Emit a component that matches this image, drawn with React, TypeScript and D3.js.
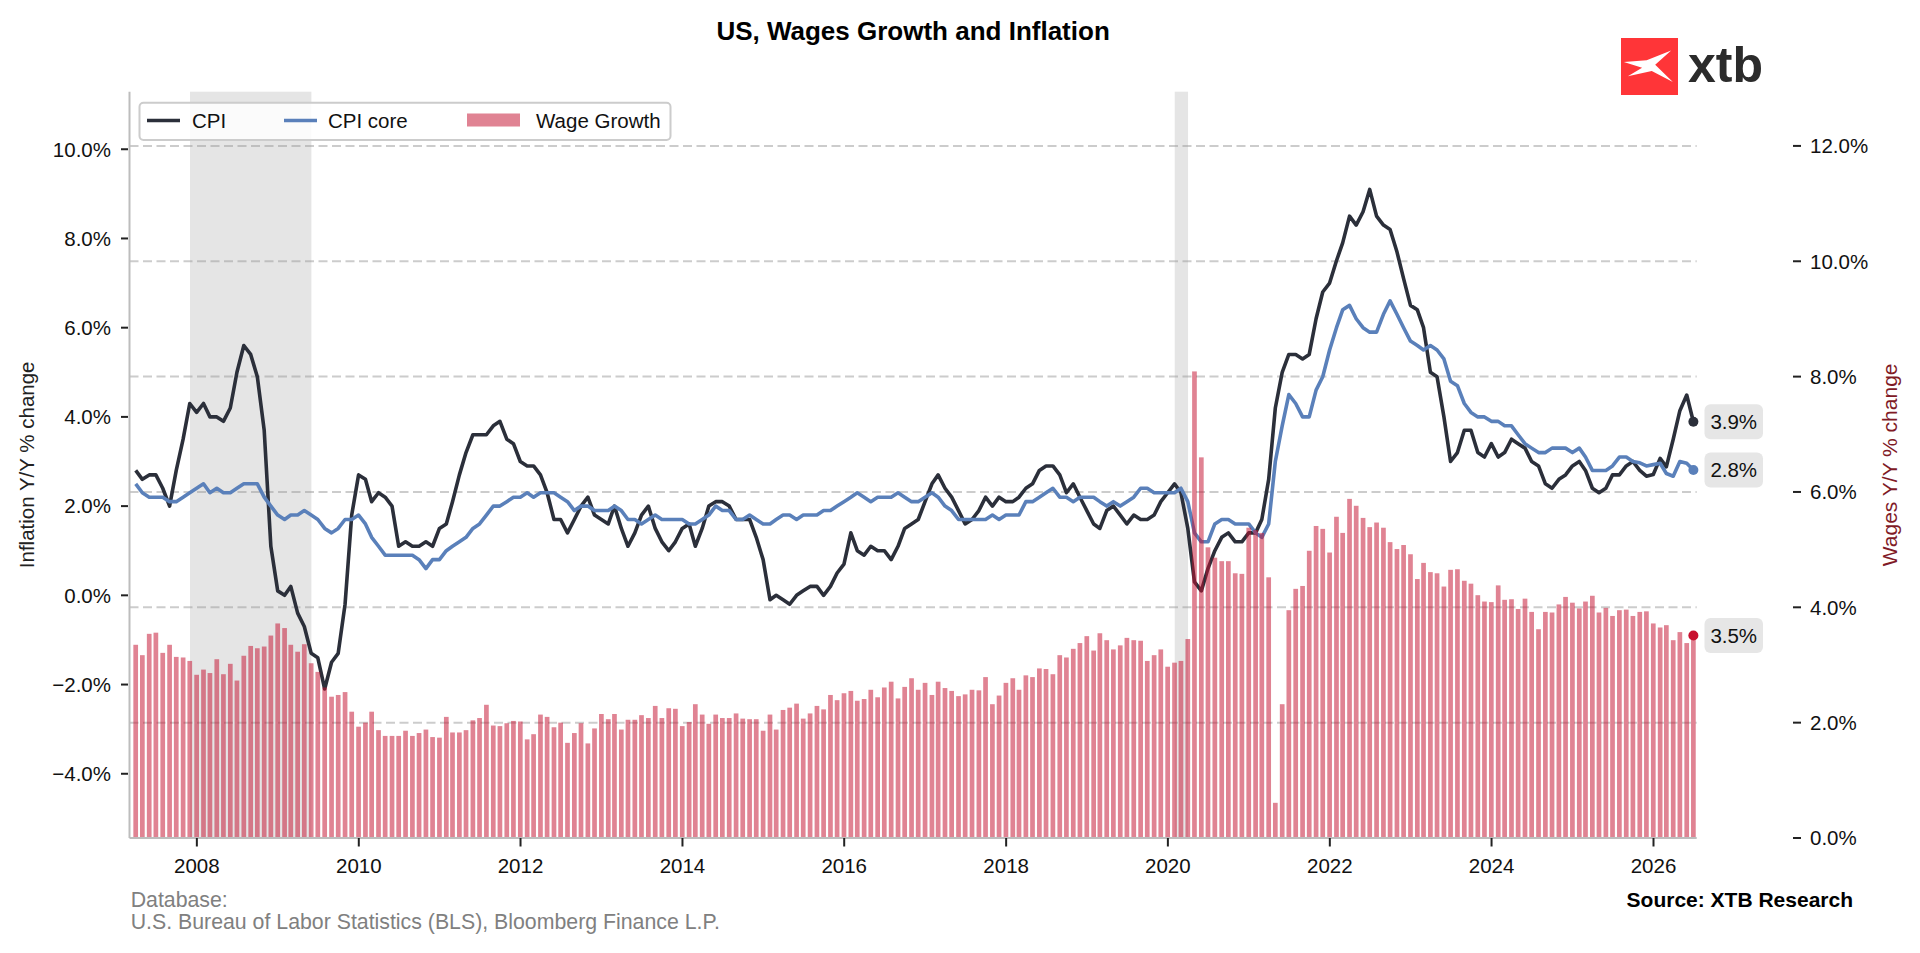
import React from "react";
import * as d3 from "d3";

// ---------------- DATA (monthly, March 2007 – June 2026) ----------------
const startYear = 2007;
const startMonthIndex = 2; // March (0-based)

// CPI, Y/Y %
const cpi: number[] = [
  // 2007 (Mar-Dec)
  2.8, 2.6, 2.7, 2.7, 2.4, 2.0, 2.8, 3.5, 4.3, 4.1,
  // 2008
  4.3, 4.0, 4.0, 3.9, 4.2, 5.0, 5.6, 5.4, 4.9, 3.7, 1.1, 0.1,
  // 2009
  0.0, 0.2, -0.4, -0.7, -1.3, -1.4, -2.1, -1.5, -1.3, -0.2, 1.8, 2.7,
  // 2010
  2.6, 2.1, 2.3, 2.2, 2.0, 1.1, 1.2, 1.1, 1.1, 1.2, 1.1, 1.5,
  // 2011
  1.6, 2.1, 2.7, 3.2, 3.6, 3.6, 3.6, 3.8, 3.9, 3.5, 3.4, 3.0,
  // 2012
  2.9, 2.9, 2.7, 2.3, 1.7, 1.7, 1.4, 1.7, 2.0, 2.2, 1.8, 1.7,
  // 2013
  1.6, 2.0, 1.5, 1.1, 1.4, 1.8, 2.0, 1.5, 1.2, 1.0, 1.2, 1.5,
  // 2014
  1.6, 1.1, 1.5, 2.0, 2.1, 2.1, 2.0, 1.7, 1.7, 1.7, 1.3, 0.8,
  // 2015
  -0.1, 0.0, -0.1, -0.2, 0.0, 0.1, 0.2, 0.2, 0.0, 0.2, 0.5, 0.7,
  // 2016
  1.4, 1.0, 0.9, 1.1, 1.0, 1.0, 0.8, 1.1, 1.5, 1.6, 1.7, 2.1,
  // 2017
  2.5, 2.7, 2.4, 2.2, 1.9, 1.6, 1.7, 1.9, 2.2, 2.0, 2.2, 2.1,
  // 2018
  2.1, 2.2, 2.4, 2.5, 2.8, 2.9, 2.9, 2.7, 2.3, 2.5, 2.2, 1.9,
  // 2019
  1.6, 1.5, 1.9, 2.0, 1.8, 1.6, 1.8, 1.7, 1.7, 1.8, 2.1, 2.3,
  // 2020
  2.5, 2.3, 1.5, 0.3, 0.1, 0.6, 1.0, 1.3, 1.4, 1.2, 1.2, 1.4,
  // 2021
  1.4, 1.7, 2.6, 4.2, 5.0, 5.4, 5.4, 5.3, 5.4, 6.2, 6.8, 7.0,
  // 2022
  7.5, 7.9, 8.5, 8.3, 8.6, 9.1, 8.5, 8.3, 8.2, 7.7, 7.1, 6.5,
  // 2023
  6.4, 6.0, 5.0, 4.9, 4.0, 3.0, 3.2, 3.7, 3.7, 3.2, 3.1, 3.4,
  // 2024
  3.1, 3.2, 3.5, 3.4, 3.3, 3.0, 2.9, 2.5, 2.4, 2.6, 2.7, 2.9,
  // 2025
  3.0, 2.8, 2.4, 2.3, 2.4, 2.7, 2.7, 2.9, 3.0, 2.8, 2.67, 2.71,
  // 2026 (Jan-Jun)
  3.07, 2.88, 3.5, 4.14, 4.49, 3.89,
];

// Core CPI, Y/Y %
const cpiCore: number[] = [
  // 2007 (Mar-Dec)
  2.5, 2.3, 2.2, 2.2, 2.2, 2.1, 2.1, 2.2, 2.3, 2.4,
  // 2008
  2.5, 2.3, 2.4, 2.3, 2.3, 2.4, 2.5, 2.5, 2.5, 2.2, 2.0, 1.8,
  // 2009
  1.7, 1.8, 1.8, 1.9, 1.8, 1.7, 1.5, 1.4, 1.5, 1.7, 1.7, 1.8,
  // 2010
  1.6, 1.3, 1.1, 0.9, 0.9, 0.9, 0.9, 0.9, 0.8, 0.6, 0.8, 0.8,
  // 2011
  1.0, 1.1, 1.2, 1.3, 1.5, 1.6, 1.8, 2.0, 2.0, 2.1, 2.2, 2.2,
  // 2012
  2.3, 2.2, 2.3, 2.3, 2.3, 2.2, 2.1, 1.9, 2.0, 2.0, 1.9, 1.9,
  // 2013
  1.9, 2.0, 1.9, 1.7, 1.7, 1.6, 1.7, 1.8, 1.7, 1.7, 1.7, 1.7,
  // 2014
  1.6, 1.6, 1.7, 1.8, 2.0, 1.9, 1.9, 1.7, 1.7, 1.8, 1.7, 1.6,
  // 2015
  1.6, 1.7, 1.8, 1.8, 1.7, 1.8, 1.8, 1.8, 1.9, 1.9, 2.0, 2.1,
  // 2016
  2.2, 2.3, 2.2, 2.1, 2.2, 2.2, 2.2, 2.3, 2.2, 2.1, 2.1, 2.2,
  // 2017
  2.3, 2.2, 2.0, 1.9, 1.7, 1.7, 1.7, 1.7, 1.7, 1.8, 1.7, 1.8,
  // 2018
  1.8, 1.8, 2.1, 2.1, 2.2, 2.3, 2.4, 2.2, 2.2, 2.1, 2.2, 2.2,
  // 2019
  2.2, 2.1, 2.0, 2.1, 2.0, 2.1, 2.2, 2.4, 2.4, 2.3, 2.3, 2.3,
  // 2020
  2.3, 2.4, 2.1, 1.4, 1.2, 1.2, 1.6, 1.7, 1.7, 1.6, 1.6, 1.6,
  // 2021
  1.4, 1.3, 1.6, 3.0, 3.8, 4.5, 4.3, 4.0, 4.0, 4.6, 4.9, 5.5,
  // 2022
  6.0, 6.4, 6.5, 6.2, 6.0, 5.9, 5.9, 6.3, 6.6, 6.3, 6.0, 5.7,
  // 2023
  5.6, 5.5, 5.6, 5.5, 5.3, 4.8, 4.7, 4.3, 4.1, 4.0, 4.0, 3.9,
  // 2024
  3.9, 3.8, 3.8, 3.6, 3.4, 3.3, 3.2, 3.2, 3.3, 3.3, 3.3, 3.2,
  // 2025
  3.3, 3.1, 2.8, 2.8, 2.8, 2.9, 3.1, 3.1, 3.0, 2.97, 2.9, 2.93,
  // 2026 (Jan-Jun)
  2.96, 2.73, 2.67, 3.0, 2.96, 2.81,
];

// Average hourly earnings, Y/Y % (right axis)
const wageGrowth: number[] = [
  // 2007 (Mar-Dec)
  3.35, 3.17, 3.54, 3.56, 3.21, 3.35, 3.14, 3.13, 3.07, 2.83,
  // 2008
  2.92, 2.86, 3.1, 2.84, 3.02, 2.73, 3.16, 3.33, 3.29, 3.32, 3.51, 3.72,
  // 2009
  3.64, 3.35, 3.23, 3.36, 3.03, 2.88, 2.61, 2.45, 2.48, 2.53, 2.19, 1.93,
  // 2010
  2.0, 2.19, 1.87, 1.77, 1.77, 1.77, 1.86, 1.77, 1.82, 1.88, 1.75, 1.74,
  // 2011
  2.1, 1.83, 1.83, 1.87, 2.04, 2.08, 2.31, 1.95, 1.94, 1.99, 2.03, 2.02,
  // 2012
  1.71, 1.8, 2.14, 2.1, 1.92, 2.0, 1.65, 1.82, 1.99, 1.64, 1.9, 2.15,
  // 2013
  2.06, 2.15, 1.88, 2.05, 2.05, 2.13, 2.08, 2.29, 2.08, 2.25, 2.24, 1.94,
  // 2014
  2.01, 2.32, 2.14, 1.98, 2.14, 2.08, 2.08, 2.16, 2.07, 2.06, 2.06, 1.86,
  // 2015
  2.14, 1.88, 2.22, 2.26, 2.33, 2.07, 2.16, 2.29, 2.23, 2.48, 2.39, 2.51,
  // 2016
  2.55, 2.38, 2.41, 2.57, 2.44, 2.61, 2.71, 2.42, 2.62, 2.77, 2.57, 2.69,
  // 2017
  2.48, 2.71, 2.6, 2.55, 2.46, 2.49, 2.57, 2.56, 2.79, 2.32, 2.47, 2.69,
  // 2018
  2.77, 2.57, 2.82, 2.79, 2.94, 2.93, 2.84, 3.17, 3.13, 3.28, 3.38, 3.5,
  // 2019
  3.25, 3.55, 3.43, 3.27, 3.34, 3.47, 3.43, 3.42, 3.07, 3.17, 3.27, 2.97,
  // 2020
  3.04, 3.07, 3.45, 8.09, 6.6, 5.04, 4.86, 4.8, 4.8, 4.59, 4.58, 5.38,
  // 2021
  5.34, 5.29, 4.52, 0.61, 2.32, 3.95, 4.32, 4.37, 4.98, 5.41, 5.36, 4.95,
  // 2022
  5.57, 5.29, 5.88, 5.76, 5.55, 5.39, 5.47, 5.38, 5.13, 5.01, 5.08, 4.92,
  // 2023
  4.49, 4.77, 4.61, 4.59, 4.36, 4.65, 4.66, 4.46, 4.41, 4.21, 4.1, 4.09,
  // 2024
  4.38, 4.13, 4.14, 3.97, 4.15, 3.92, 3.62, 3.92, 3.91, 4.05, 4.18, 4.08,
  // 2025
  3.98, 4.1, 4.2, 3.91, 3.99, 3.85, 3.95, 3.96, 3.85, 3.92, 3.93, 3.72,
  // 2026 (Jan-Jun)
  3.65, 3.69, 3.43, 3.57, 3.38, 3.51,
];

const leftTicks = [-4, -2, 0, 2, 4, 6, 8, 10];
const rightTicks = [0, 2, 4, 6, 8, 10, 12];
const gridTicks = [2, 4, 6, 8, 10, 12];
const yearTicks = [2008, 2010, 2012, 2014, 2016, 2018, 2020, 2022, 2024, 2026];
const recessions: [string, string][] = [
  ["2007-12-01", "2009-06-01"],
  ["2020-02-01", "2020-04-01"],
];

const title = "US, Wages Growth and Inflation";
const leftLabel = "Inflation Y/Y % change";
const rightLabel = "Wages Y/Y % change";
const footerLines = ["Database:", "U.S. Bureau of Labor Statistics (BLS), Bloomberg Finance L.P."];
const sourceText = "Source: XTB Research";
const legendItems = ["CPI", "CPI core", "Wage Growth"];

// ---------------- STYLE ----------------
const FONT = "'Liberation Sans', Arial, Helvetica, sans-serif";
const C_CPI = "#2b2f3a";
const C_CORE = "#5a80ba";
const C_WAGE = "#c41230";
const C_WAGE_DOT = "#c8102e";
const P = { left: 129.5, right: 1696.7, top: 91.7, bottom: 838 };

function parseDate(s: string) {
  const [y, m, d] = s.split("-").map(Number);
  return new Date(y, m - 1, d);
}

export default function App() {
  const dates = cpi.map((_, i) => new Date(startYear, startMonthIndex + i + 1, 0));

  const x = d3
    .scaleTime()
    .domain([new Date(2007, 2, 3), new Date(2026, 6, 15)])
    .range([P.left, P.right]);
  const yL = d3.scaleLinear().domain([-5.44, 11.29]).range([P.bottom, P.top]);
  const yR = d3.scaleLinear().domain([0, 12.94]).range([P.bottom, P.top]);

  const lineL = d3
    .line<number>()
    .x((_, i) => x(dates[i]))
    .y((d) => yL(d));

  const fmt = (v: number) => d3.format(".1f")(v) + "%";
  const barW = 4.7;

  const n = cpi.length;
  const lastX = x(dates[n - 1]);
  const endLabels = [
    { v: cpi[n - 1], y: yL(cpi[n - 1]), color: C_CPI },
    { v: cpiCore[n - 1], y: yL(cpiCore[n - 1]), color: C_CORE },
    { v: wageGrowth[n - 1], y: yR(wageGrowth[n - 1]), color: C_WAGE_DOT },
  ];

  // legend geometry
  const lg = { x: 139.5, y: 102.7, w: 531, h: 37.3 };
  const lgLineY = 120.5;
  const lgBase = 127.5;

  // XTB logo mark (white) inside a 57px square
  const s = 57;
  const markPts: [number, number][] = [
    [0.88, 0.22], [0.6, 0.47], [0.91, 0.77], [0.54, 0.58], [0.12, 0.67],
    [0.37, 0.52], [0.05, 0.42], [0.45, 0.39],
  ];
  const markPath = d3.line()(markPts.map(([a, b]) => [a * s, b * s] as [number, number])) + "Z";

  return (
    <div style={{ position: "absolute", left: 0, top: 0, width: 1920, height: 953, background: "#fff" }}>
      <svg width={1920} height={953} style={{ display: "block" }} fontFamily={FONT}>
        <rect x={0} y={0} width={1920} height={953} fill="#fff" />

        {/* title */}
        <text x={(P.left + P.right) / 2} y={39.5} textAnchor="middle" fontSize={26} fontWeight="bold" fill="#000">
          {title}
        </text>

        {/* logo */}
        <g transform="translate(1621,38)">
          <rect x={0} y={0} width={s} height={s} fill="#ff3538" />
          <path d={markPath} fill="#fff" />
        </g>
        <text x={1688} y={82} fontSize={50} fontWeight="bold" fill="#2b2b2b">
          xtb
        </text>

        {/* recession shading */}
        {recessions.map(([a, b], i) => (
          <rect
            key={i}
            x={x(parseDate(a))}
            y={P.top}
            width={x(parseDate(b)) - x(parseDate(a))}
            height={P.bottom - P.top}
            fill="#e5e5e5"
          />
        ))}

        {/* grid (right axis) */}
        {gridTicks.map((t) => (
          <line
            key={t}
            x1={P.left}
            x2={P.right}
            y1={yR(t)}
            y2={yR(t)}
            stroke="#999"
            strokeOpacity={0.5}
            strokeWidth={2}
            strokeDasharray="9 4.5"
          />
        ))}

        {/* lines */}
        <path d={lineL(cpi) || ""} fill="none" stroke={C_CPI} strokeWidth={3.6} strokeLinejoin="round" />
        <path d={lineL(cpiCore) || ""} fill="none" stroke={C_CORE} strokeWidth={3.6} strokeLinejoin="round" />

        {/* bars */}
        <g fill={C_WAGE} fillOpacity={0.52}>
          {wageGrowth.map((v, i) => (
            <rect key={i} x={x(dates[i]) - barW / 2} y={yR(v)} width={barW} height={P.bottom - yR(v)} />
          ))}
        </g>

        {/* spines */}
        <line x1={P.left} x2={P.left} y1={P.top} y2={P.bottom} stroke="#bdbdbd" strokeWidth={2} />
        <line x1={P.left} x2={P.right} y1={P.bottom} y2={P.bottom} stroke="#bdbdbd" strokeWidth={2} />

        {/* left axis */}
        {leftTicks.map((t) => (
          <g key={t}>
            <line x1={121} x2={128} y1={yL(t)} y2={yL(t)} stroke="#222" strokeWidth={2} />
            <text x={111} y={yL(t)} dy="0.36em" textAnchor="end" fontSize={20.5} fill="#111">
              {fmt(t)}
            </text>
          </g>
        ))}
        <text
          transform={`translate(34,${(P.top + P.bottom) / 2}) rotate(-90)`}
          textAnchor="middle"
          fontSize={20.5}
          fill="#222"
        >
          {leftLabel}
        </text>

        {/* right axis */}
        {rightTicks.map((t) => (
          <g key={t}>
            <line x1={1793} x2={1801} y1={yR(t)} y2={yR(t)} stroke="#222" strokeWidth={2} />
            <text x={1810} y={yR(t)} dy="0.36em" textAnchor="start" fontSize={20.5} fill="#111">
              {fmt(t)}
            </text>
          </g>
        ))}
        <text
          transform={`translate(1897,${(P.top + P.bottom) / 2}) rotate(-90)`}
          textAnchor="middle"
          fontSize={21}
          fill="#801a26"
        >
          {rightLabel}
        </text>

        {/* bottom axis */}
        {yearTicks.map((yr) => {
          const xx = x(new Date(yr, 0, 1));
          return (
            <g key={yr}>
              <line x1={xx} x2={xx} y1={P.bottom} y2={P.bottom + 8.5} stroke="#222" strokeWidth={2} />
              <text x={xx} y={872.5} textAnchor="middle" fontSize={20.5} fill="#111">
                {yr}
              </text>
            </g>
          );
        })}

        {/* end dots + value labels */}
        {endLabels.map((e, i) => (
          <g key={i}>
            <circle cx={lastX} cy={e.y} r={5} fill={e.color} />
            <rect x={1704.5} y={e.y - 17.5} width={58.5} height={35} rx={6} fill="#e6e6e6" />
            <text x={1733.75} y={e.y} dy="0.36em" textAnchor="middle" fontSize={20.5} fill="#111">
              {fmt(e.v)}
            </text>
          </g>
        ))}

        {/* legend */}
        <rect x={lg.x} y={lg.y} width={lg.w} height={lg.h} rx={4} fill="#fff" fillOpacity={0.85} stroke="#cccccc" strokeWidth={2} />
        <line x1={147} x2={180} y1={lgLineY} y2={lgLineY} stroke={C_CPI} strokeWidth={3.6} />
        <text x={192} y={lgBase} fontSize={20.5} fill="#111">{legendItems[0]}</text>
        <line x1={284} x2={317} y1={lgLineY} y2={lgLineY} stroke={C_CORE} strokeWidth={3.6} />
        <text x={328} y={lgBase} fontSize={20.5} fill="#111">{legendItems[1]}</text>
        <rect x={467} y={113.5} width={53} height={13} fill={C_WAGE} fillOpacity={0.52} />
        <text x={536} y={lgBase} fontSize={20.5} fill="#111">{legendItems[2]}</text>

        {/* footer */}
        <text x={130.7} y={906.7} fontSize={21.3} fill="#808080">{footerLines[0]}</text>
        <text x={130.7} y={929} fontSize={21.3} fill="#808080">{footerLines[1]}</text>
        <text x={1853} y={907} textAnchor="end" fontSize={21} fontWeight="bold" fill="#000">
          {sourceText}
        </text>
      </svg>
    </div>
  );
}
